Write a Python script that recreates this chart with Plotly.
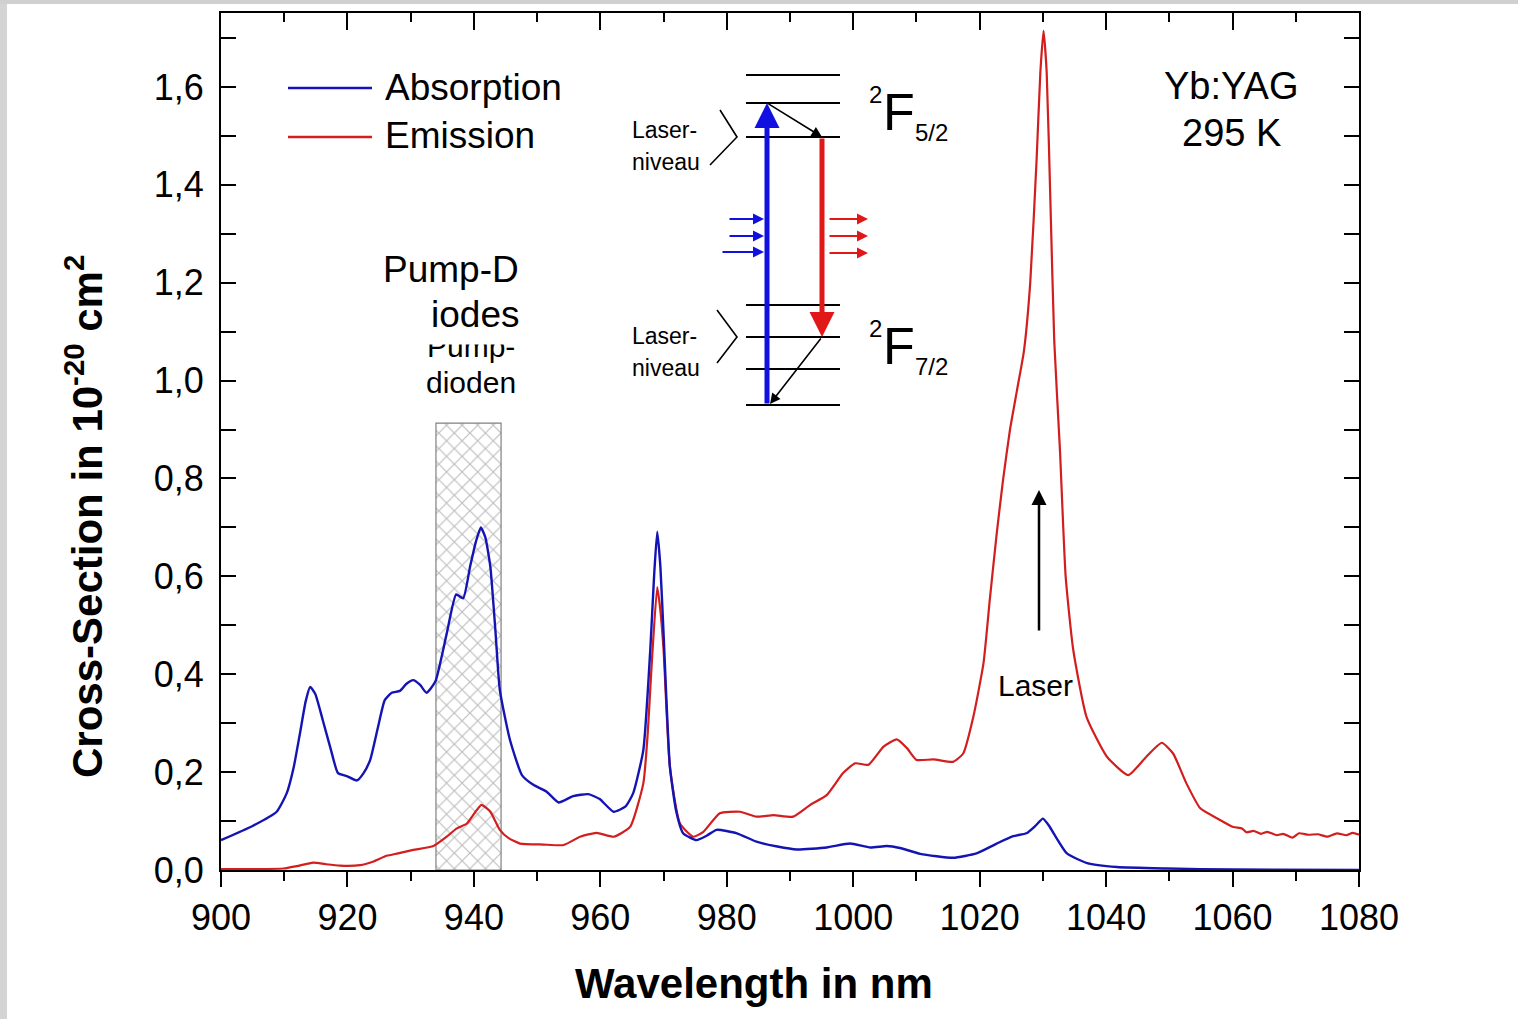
import plotly.graph_objects as go

# ---------------- data ----------------
abs_wl = [900, 905, 908.8, 910.4, 911.5, 912.5, 913.4, 914.1, 914.9, 916.1, 917.4, 918.5, 919.9, 921.5,
          922.5, 923.6, 924.8, 925.9, 927.0, 928.3, 929.3, 930.4, 931.5, 932.5, 933.9, 935.7, 937.2,
          938.3, 939.4, 940.3, 941.1, 941.8, 942.6, 943.4, 944.1, 945.7, 947.6, 949.4, 951.5, 953.4,
          955.7, 958.1, 959.9, 962.1, 964.0, 965.2, 966.8, 967.9, 968.5, 969.0, 969.5, 970.0, 971.0,
          972.0, 973.1, 975.2, 976.8, 978.4, 981.6, 984.7, 988.0, 991.1, 995.8, 999.5, 1002.7, 1005.3,
          1007.4, 1010.6, 1015.8, 1019.5, 1022.7, 1025.3, 1027.4, 1028.8, 1030.0, 1031.0, 1031.7,
          1033.8, 1037.0, 1041.7, 1049.6, 1060, 1080]
abs_val = [0.061, 0.09, 0.119, 0.157, 0.21, 0.28, 0.345, 0.374, 0.36, 0.306, 0.245, 0.198, 0.192, 0.183,
           0.197, 0.225, 0.29, 0.347, 0.362, 0.366, 0.38, 0.388, 0.378, 0.362, 0.385, 0.483, 0.563,
           0.555, 0.62, 0.67, 0.70, 0.68, 0.62, 0.49, 0.368, 0.266, 0.194, 0.174, 0.16, 0.138,
           0.151, 0.155, 0.145, 0.119, 0.13, 0.157, 0.245, 0.45, 0.6, 0.691, 0.62, 0.483, 0.211,
           0.12, 0.075, 0.061, 0.07, 0.082, 0.075, 0.058, 0.048, 0.042, 0.046, 0.054, 0.046, 0.049,
           0.045, 0.033, 0.025, 0.034, 0.054, 0.069, 0.075, 0.09, 0.105, 0.09, 0.075,
           0.034, 0.014, 0.006, 0.003, 0.001, 0.0]

em_wl = [900, 905, 909.9, 912, 914.6, 916.5, 918.8, 922, 924, 926.2, 928, 930.4, 933.6, 935.7, 937.3,
         938.9, 940.2, 941.2, 942.6, 944.1, 945.5, 947.3, 951, 954.2, 956.8, 959.4, 962.1, 964.7,
         966.8, 967.5, 968.1, 969.0, 969.5, 970.0, 971.0, 972.6, 974.7, 976.3, 978.9, 982.1, 984.7,
         987.4, 990.5, 993.2, 995.8, 998.4, 1000.3, 1002.4, 1004.8, 1006.9, 1008.5, 1010.0, 1012.7,
         1015.8, 1017.4, 1019.0, 1020.6, 1021.6, 1022.7, 1023.7, 1024.8, 1025.9, 1027.0, 1028.0,
         1029.0, 1029.6, 1030.1, 1030.6, 1031.2, 1031.8, 1032.7, 1033.6, 1034.8, 1036.9, 1040.1,
         1043.5, 1046.4, 1048.8, 1050.6, 1052.7, 1054.9, 1057.5, 1060.1, 1061.5, 1062.2, 1063.3,
         1064.5, 1065.5, 1067, 1068, 1069.5, 1070.5, 1072, 1073.5, 1075, 1076.5, 1078, 1079, 1080]
em_val = [0.002, 0.002, 0.003, 0.008, 0.015, 0.012, 0.009, 0.01, 0.017, 0.029, 0.034, 0.041, 0.049,
          0.068, 0.085, 0.095, 0.118, 0.133, 0.119, 0.082, 0.065, 0.054, 0.052, 0.051, 0.068, 0.076,
          0.068, 0.088, 0.177, 0.28, 0.415, 0.578, 0.53, 0.45, 0.211, 0.095, 0.068, 0.078, 0.116,
          0.119, 0.109, 0.112, 0.109, 0.133, 0.153, 0.198, 0.218, 0.215, 0.252, 0.267, 0.249, 0.225,
          0.226, 0.221, 0.238, 0.313, 0.422, 0.552, 0.688, 0.797, 0.90, 0.98, 1.06, 1.2, 1.45, 1.63,
          1.715, 1.63, 1.36, 1.08, 0.858, 0.6, 0.45, 0.313, 0.232, 0.194, 0.232, 0.26, 0.238, 0.177,
          0.126, 0.106, 0.088, 0.085, 0.077, 0.08, 0.074, 0.078, 0.071, 0.074, 0.066, 0.075, 0.072,
          0.073, 0.068, 0.075, 0.071, 0.076, 0.072]

pump_band = [934.0, 944.3]      # wavelength range of pump diodes
pump_top = 0.913

y_ticks = [0.0, 0.2, 0.4, 0.6, 0.8, 1.0, 1.2, 1.4, 1.6]
y_labels = ["0,0", "0,2", "0,4", "0,6", "0,8", "1,0", "1,2", "1,4", "1,6"]
x_ticks = [900, 920, 940, 960, 980, 1000, 1020, 1040, 1060, 1080]

BLUE = "#1414b4"
RED = "#d21e1e"
FONT = "Arial, Liberation Sans, sans-serif"

# pixel helpers for annotation placement
def PX(x):
    return 900 + (x - 221) / 6.3222

def PY(y):
    return (870 - y) / 489.4

fig = go.Figure()

# hatched pump band
fig.add_trace(go.Scatter(
    x=[pump_band[0], pump_band[1], pump_band[1], pump_band[0], pump_band[0]],
    y=[0, 0, pump_top, pump_top, 0],
    mode="lines", fill="toself",
    line=dict(color="#808080", width=1.2),
    fillcolor="rgba(0,0,0,0)",
    fillpattern=dict(shape="x", fgcolor="#7a7a7a", bgcolor="white", size=11, solidity=0.2),
    hoverinfo="skip", showlegend=False))

fig.add_trace(go.Scatter(x=em_wl, y=em_val, mode="lines", name="Emission",
                         line=dict(color=RED, width=2.2, shape="spline", smoothing=0.5),
                         showlegend=False))
fig.add_trace(go.Scatter(x=abs_wl, y=abs_val, mode="lines", name="Absorption",
                         line=dict(color=BLUE, width=2.4, shape="spline", smoothing=0.5),
                         showlegend=False))
# dummy trace for top axis
fig.add_trace(go.Scatter(x=[900, 1080], y=[None, None], xaxis="x2", mode="lines",
                         showlegend=False, hoverinfo="skip"))

shapes = []
annotations = []

# legend
shapes.append(dict(type="line", xref="x", yref="y", x0=PX(288), x1=PX(372), y0=PY(88), y1=PY(88),
                   line=dict(color=BLUE, width=2.5)))
shapes.append(dict(type="line", xref="x", yref="y", x0=PX(288), x1=PX(372), y0=PY(137), y1=PY(137),
                   line=dict(color=RED, width=2.5)))
annotations.append(dict(x=PX(383), y=PY(88), text="Absorption", xanchor="left", yanchor="middle",
                        showarrow=False, font=dict(size=37, color="black", family=FONT)))
annotations.append(dict(x=PX(383), y=PY(136), text="Emission", xanchor="left", yanchor="middle",
                        showarrow=False, font=dict(size=37, color="black", family=FONT)))

# Yb:YAG label
annotations.append(dict(x=PX(1231), y=PY(86), text="Yb:YAG", xanchor="center", yanchor="middle",
                        showarrow=False, font=dict(size=38, color="black", family=FONT)))
annotations.append(dict(x=PX(1231), y=PY(133), text="295 K", xanchor="center", yanchor="middle",
                        showarrow=False, font=dict(size=38, color="black", family=FONT)))

# Pump diodes text
annotations.append(dict(x=PX(471), y=PY(347), text="Pump-", xanchor="center", yanchor="middle",
                        showarrow=False, font=dict(size=30, color="black", family=FONT)))
annotations.append(dict(x=PX(470), y=PY(333), text=" ", xanchor="center", yanchor="middle",
                        width=140, height=20, bgcolor="white", showarrow=False,
                        font=dict(size=10)))
annotations.append(dict(x=PX(521), y=PY(270), text="Pump-D", xanchor="right", yanchor="middle",
                        showarrow=False, font=dict(size=37, color="black", family=FONT)))
annotations.append(dict(x=PX(521), y=PY(315), text="iodes", xanchor="right", yanchor="middle",
                        showarrow=False, font=dict(size=37, color="black", family=FONT)))
annotations.append(dict(x=PX(471), y=PY(383), text="dioden", xanchor="center", yanchor="middle",
                        showarrow=False, font=dict(size=30, color="black", family=FONT)))

# Laser arrow + label
annotations.append(dict(x=PX(1039), y=PY(490), ax=PX(1039), ay=PY(632), xref="x", yref="y",
                        axref="x", ayref="y", text="", showarrow=True, arrowhead=2,
                        arrowsize=1.2, arrowwidth=2.5, arrowcolor="black"))
annotations.append(dict(x=PX(1035), y=PY(686), text="Laser", xanchor="center", yanchor="middle",
                        showarrow=False, font=dict(size=30, color="black", family=FONT)))

# ---- energy level inset ----
for lev in [75, 103, 137, 305, 337, 369, 405]:
    shapes.append(dict(type="line", xref="x", yref="y", x0=PX(746), x1=PX(840), y0=PY(lev), y1=PY(lev),
                       line=dict(color="black", width=2)))

def arrow(x0, y0, x1, y1, color, width, size=1.0, head=2):
    annotations.append(dict(x=PX(x1), y=PY(y1), ax=PX(x0), ay=PY(y0), xref="x", yref="y",
                            axref="x", ayref="y", text="", showarrow=True, arrowhead=head,
                            arrowsize=size, arrowwidth=width, arrowcolor=color))

arrow(767, 405, 767, 103, "#1010e0", 5, 1.0)
arrow(767, 103, 822, 137, "black", 1.6, 1.3)
arrow(822, 137, 822, 337, "#e01818", 5, 1.0)
arrow(822, 337, 770, 404, "black", 1.6, 1.3)
for yy, x0 in [(219, 728), (236, 728), (252, 721)]:
    arrow(x0, yy, 764, yy, "#1010e0", 2, 1.1)
for yy in [219, 236, 253]:
    arrow(828, yy, 868, yy, "#e01818", 2, 1.1)

# brackets
shapes.append(dict(type="path", xref="x", yref="y",
                   path=f"M {PX(720)} {PY(110)} L {PX(737)} {PY(137)} L {PX(710)} {PY(165)}",
                   line=dict(color="black", width=1.6)))
shapes.append(dict(type="path", xref="x", yref="y",
                   path=f"M {PX(717)} {PY(310)} L {PX(737)} {PY(337)} L {PX(717)} {PY(363)}",
                   line=dict(color="black", width=1.6)))

for ty, t in [(130, "Laser-"), (162, "niveau"), (336, "Laser-"), (368, "niveau")]:
    annotations.append(dict(x=PX(630), y=PY(ty), text=t, xanchor="left", yanchor="middle",
                            showarrow=False, font=dict(size=23, color="black", family=FONT)))

# term symbols
for yc, sub in [(112, "5/2"), (346, "7/2")]:
    annotations.append(dict(x=PX(867), y=PY(yc - 17), text="2", xanchor="left", yanchor="middle",
                            showarrow=False, font=dict(size=24, color="black", family=FONT)))
    annotations.append(dict(x=PX(881), y=PY(yc), text="F", xanchor="left", yanchor="middle",
                            showarrow=False, font=dict(size=52, color="black", family=FONT)))
    annotations.append(dict(x=PX(913), y=PY(yc + 21), text=sub, xanchor="left", yanchor="middle",
                            showarrow=False, font=dict(size=24, color="black", family=FONT)))

# axis titles
annotations.append(dict(xref="paper", yref="paper", x=(754 - 221) / 1138, y=(870 - 983) / 857,
                        text="<b>Wavelength in nm</b>", showarrow=False, xanchor="center",
                        yanchor="middle", font=dict(size=42, color="black", family=FONT)))
annotations.append(dict(xref="paper", yref="paper", x=(84 - 221) / 1138, y=(870 - 517) / 857,
                        text="<b>Cross-Section in 10<sup>-20</sup> cm<sup>2</sup></b>", textangle=-90,
                        showarrow=False, xanchor="center", yanchor="middle",
                        font=dict(size=42, color="black", family=FONT)))

# gray edge strips of the scanned page
shapes.append(dict(type="rect", xref="paper", yref="paper", x0=-221 / 1138, x1=-214 / 1138,
                   y0=-149 / 857, y1=870 / 857, fillcolor="#d4d4d4", line=dict(width=0), layer="below"))
shapes.append(dict(type="rect", xref="paper", yref="paper", x0=-221 / 1138, x1=1297 / 1138,
                   y0=866 / 857, y1=870 / 857, fillcolor="#d0d0d0", line=dict(width=0), layer="below"))

fig.update_layout(
    width=1518, height=1019,
    margin=dict(l=221, r=159, t=13, b=149),
    paper_bgcolor="white", plot_bgcolor="white",
    font=dict(family=FONT, color="black"),
    showlegend=False,
    shapes=shapes, annotations=annotations,
    xaxis=dict(range=[900, 1080], tickvals=x_ticks, ticks="outside", ticklen=15, tickwidth=2,
               tickcolor="black", showline=True, linecolor="black", linewidth=2, mirror=False,
               showgrid=False, zeroline=False, tickfont=dict(size=36, color="black"),
               minor=dict(tickvals=[910, 930, 950, 970, 990, 1010, 1030, 1050, 1070], ticks="outside",
                          ticklen=9, tickwidth=2, tickcolor="black", showgrid=False)),
    xaxis2=dict(range=[900, 1080], overlaying="x", side="top", tickvals=x_ticks, ticks="inside",
                ticklen=17, tickwidth=2, tickcolor="black", showline=True, linecolor="black",
                linewidth=2, showticklabels=False, showgrid=False, zeroline=False,
                minor=dict(tickvals=[910, 930, 950, 970, 990, 1010, 1030, 1050, 1070], ticks="inside",
                           ticklen=9, tickwidth=2, tickcolor="black", showgrid=False)),
    yaxis=dict(range=[0, 1.751], tickvals=y_ticks, ticktext=y_labels, ticks="inside", ticklen=15,
               tickwidth=2, tickcolor="black", showline=True, linecolor="black", linewidth=2,
               mirror="ticks", showgrid=False, zeroline=False, tickfont=dict(size=36, color="black"),
               ticklabelstandoff=8,
               minor=dict(tickvals=[0.1, 0.3, 0.5, 0.7, 0.9, 1.1, 1.3, 1.5, 1.7], ticks="inside",
                          ticklen=15, tickwidth=2, tickcolor="black", showgrid=False)),
)

fig.write_html("out.html")
